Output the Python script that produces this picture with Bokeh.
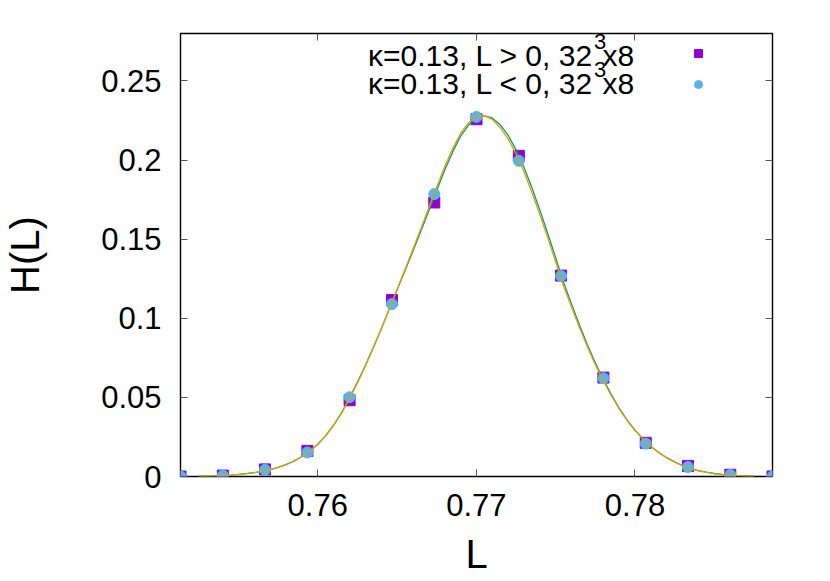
from bokeh.plotting import figure
from bokeh.models import Range1d, FixedTicker, LinearAxis, Legend, LegendItem, Label
from bokeh.embed import file_html
from bokeh.resources import INLINE

# ---- data ----
L_points = [0.75135, 0.75402, 0.75668, 0.75935, 0.76201, 0.76468, 0.76735, 0.77001,
            0.77268, 0.77534, 0.77801, 0.78068, 0.78334, 0.78601, 0.78867]
H_pos = [0.0, 0.0006, 0.0045, 0.0162, 0.0482, 0.1115, 0.1732, 0.2258,
         0.2027, 0.1270, 0.0625, 0.0213, 0.0066, 0.0011, 0.0]
H_neg = [0.0, 0.0006, 0.0042, 0.0152, 0.0501, 0.1090, 0.1785, 0.2273,
         0.1995, 0.1267, 0.0621, 0.0208, 0.0060, 0.0010, 0.0]

L_fit = [0.7525, 0.7530, 0.7535, 0.7540, 0.7545, 0.7550, 0.7555, 0.7560, 0.7565, 0.7570,
         0.7575, 0.7580, 0.7585, 0.7590, 0.7595, 0.7600, 0.7605, 0.7610, 0.7615, 0.7620,
         0.7625, 0.7630, 0.7635, 0.7640, 0.7645, 0.7650, 0.7655, 0.7660, 0.7665, 0.7670,
         0.7675, 0.7680, 0.7685, 0.7690, 0.7695, 0.7700, 0.7705, 0.7710, 0.7715, 0.7720,
         0.7725, 0.7730, 0.7735, 0.7740, 0.7745, 0.7750, 0.7755, 0.7760, 0.7765, 0.7770,
         0.7775, 0.7780, 0.7785, 0.7790, 0.7795, 0.7800, 0.7805, 0.7810, 0.7815, 0.7820,
         0.7825, 0.7830, 0.7835, 0.7840, 0.7845, 0.7850, 0.7855, 0.7860, 0.7865, 0.7870,
         0.7875]
H_fit_pos = [0.0002, 0.0003, 0.0004, 0.0006, 0.0009, 0.0013, 0.0018, 0.0024, 0.0032, 0.0043,
             0.0057, 0.0075, 0.0097, 0.0125, 0.0160, 0.0204, 0.0258, 0.0324, 0.0403, 0.0497,
             0.0595, 0.0701, 0.0814, 0.0932, 0.1055, 0.1178, 0.1300, 0.1424, 0.1550, 0.1678,
             0.1808, 0.1935, 0.2050, 0.2150, 0.2220, 0.2264, 0.2280, 0.2266, 0.2224, 0.2157,
             0.2066, 0.1954, 0.1826, 0.1685, 0.1536, 0.1383, 0.1226, 0.1091, 0.0958, 0.0833,
             0.0718, 0.0615, 0.0519, 0.0433, 0.0358, 0.0293, 0.0238, 0.0191, 0.0152, 0.0119,
             0.0092, 0.0069, 0.0051, 0.0037, 0.0027, 0.0019, 0.0013, 0.0009, 0.0006, 0.0004,
             0.0002]
H_fit_neg = [0.0002, 0.0003, 0.0004, 0.0006, 0.0009, 0.0013, 0.0018, 0.0025, 0.0033, 0.0044,
             0.0058, 0.0076, 0.0098, 0.0126, 0.0160, 0.0203, 0.0256, 0.0321, 0.0399, 0.0492,
             0.0590, 0.0697, 0.0811, 0.0931, 0.1056, 0.1182, 0.1308, 0.1436, 0.1566, 0.1697,
             0.1829, 0.1957, 0.2071, 0.2168, 0.2235, 0.2274, 0.2281, 0.2257, 0.2206, 0.2134,
             0.2040, 0.1926, 0.1797, 0.1656, 0.1508, 0.1357, 0.1203, 0.1071, 0.0941, 0.0819,
             0.0707, 0.0606, 0.0512, 0.0428, 0.0354, 0.0290, 0.0236, 0.0190, 0.0151, 0.0118,
             0.0091, 0.0068, 0.0050, 0.0036, 0.0026, 0.0018, 0.0012, 0.0008, 0.0005, 0.0003,
             0.0002]

x_ticks = [0.76, 0.77, 0.78]
x_tick_labels = ["0.76", "0.77", "0.78"]
y_ticks = [0.0, 0.05, 0.10, 0.15, 0.20, 0.25]
y_tick_labels = ["0", "0.05", "0.1", "0.15", "0.2", "0.25"]
# key texts: main part, superscript, tail
series_main = ["\u03ba=0.13, L > 0, 32", "\u03ba=0.13, L < 0, 32"]
series_sup = ["3", "3"]
series_tail = ["x8", "x8"]

FONT = "Liberation Sans"
PURPLE = "#9400d3"
TEAL = "#009e73"
BLUE = "#56b4e9"
ORANGE = "#e69f00"

p = figure(width=822, height=578,
           x_range=Range1d(0.75135, 0.78867), y_range=Range1d(0.0, 0.28),
           output_backend="svg", toolbar_location=None,
           min_border_left=177, min_border_right=50, min_border_top=33, min_border_bottom=101)
p.background_fill_color = "white"
p.border_fill_color = "white"
p.xgrid.visible = False
p.ygrid.visible = False
p.outline_line_color = "black"
p.outline_line_width = 1.4

def style_axis(ax, ticks, labels, show):
    ax.ticker = FixedTicker(ticks=ticks)
    ax.axis_line_color = None
    ax.major_tick_in = 7
    ax.major_tick_out = 0
    ax.major_tick_line_color = "#555555"
    ax.major_tick_line_width = 1
    ax.minor_tick_line_color = None
    if show:
        ax.major_label_overrides = {t: s for t, s in zip(ticks, labels)}
        ax.major_label_text_font = FONT
        ax.major_label_text_font_size = "31px"
        ax.major_label_text_color = "black"
        ax.axis_label_text_font = FONT
        ax.axis_label_text_font_size = "40px"
        ax.axis_label_text_font_style = "normal"
        ax.axis_label_text_color = "black"
    else:
        ax.major_label_overrides = {t: "" for t in ticks}
        ax.major_label_text_font_size = "1px"
        ax.major_label_text_color = None
        ax.major_label_standoff = 0

xa = p.xaxis[0]
style_axis(xa, x_ticks, x_tick_labels, True)
xa.axis_label = "L"
xa.major_label_standoff = 17
xa.axis_label_standoff = 13

ya = p.yaxis[0]
style_axis(ya, y_ticks, y_tick_labels, True)
ya.axis_label = "H(L)"
ya.major_label_standoff = 19
ya.axis_label_standoff = 51

top_ax = LinearAxis()
style_axis(top_ax, x_ticks, x_tick_labels, False)
p.add_layout(top_ax, "above")
right_ax = LinearAxis()
style_axis(right_ax, y_ticks, y_tick_labels, False)
p.add_layout(right_ax, "right")

r_sq = p.scatter(L_points, H_pos, marker="square", size=11, fill_color=PURPLE, line_color=PURPLE)
r_fit_pos = p.line(L_fit, H_fit_pos, line_color=TEAL, line_width=1.3)
r_ci = p.scatter(L_points, H_neg, marker="circle", size=11, fill_color=BLUE, line_color=BLUE)
r_fit_neg = p.line(L_fit, H_fit_neg, line_color=ORANGE, line_width=1.3)

# key: text right-aligned, sample to the right (gnuplot style)
legend = Legend(items=[LegendItem(label=" ", renderers=[r_sq]),
                       LegendItem(label=" ", renderers=[r_ci])],
                location=(508, 382), orientation="vertical",
                glyph_width=20, glyph_height=20, spacing=11, padding=0, margin=0,
                label_standoff=0, label_width=1, label_height=20,
                label_text_font_size="1px",
                background_fill_alpha=0, border_line_color=None)
p.add_layout(legend, "center")

KEY_X = 0.77995
for main, sup, tail, yy in zip(series_main, series_sup, series_tail, [0.2662, 0.2482]):
    p.add_layout(Label(x=KEY_X, y=yy, text=tail, text_align="right", text_baseline="alphabetic",
                       text_font=FONT, text_font_size="30px", text_color="black"))
    p.add_layout(Label(x=KEY_X, y=yy, x_offset=-28, y_offset=14, text=sup, text_align="right",
                       text_baseline="alphabetic",
                       text_font=FONT, text_font_size="22px", text_color="black"))
    p.add_layout(Label(x=KEY_X, y=yy, x_offset=-41, text=main, text_align="right",
                       text_baseline="alphabetic",
                       text_font=FONT, text_font_size="30px", text_color="black"))

open("out.html", "w").write(file_html(p, INLINE))
